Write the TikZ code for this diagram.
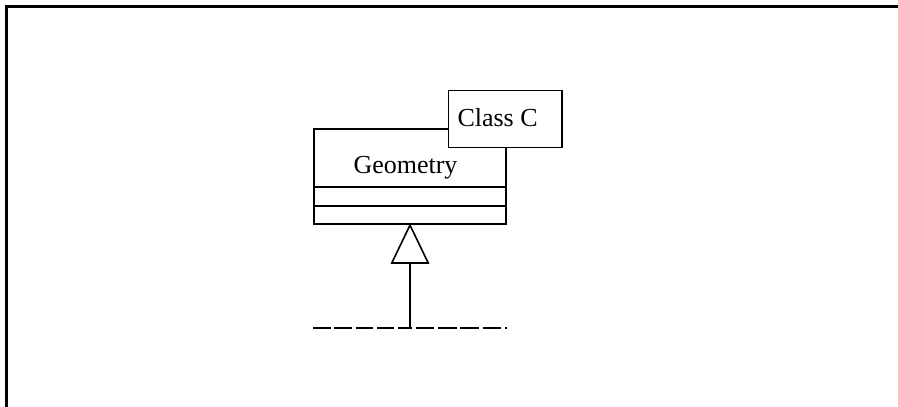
\documentclass[tikz,border=0pt]{standalone}
\usepackage{fontspec}
\setmainfont{Liberation Serif}
\usetikzlibrary{arrows.meta}
\begin{document}
\begin{tikzpicture}[x=1pt,y=-1pt,
  box/.style={draw, line width=1.6pt, inner sep=0pt},
  lbl/.style={font=\fontsize{26}{30}\selectfont, inner sep=0pt, anchor=base west},
  frameline/.style={line width=2.2pt},
  conn/.style={line width=1.6pt},
  dashline/.style={line width=2pt}]
\useasboundingbox (0,0) rectangle (898,407);
\draw[frameline] (6.5,407) -- (6.5,6.5) -- (898,6.5);
% Geometry class box
\node[box, minimum width=192pt, minimum height=95pt] (geo) at (410,176.5) {};
\draw[conn] (314,187) -- (506,187);
\draw[conn] (314,206) -- (506,206);
\node[lbl] (geotxt) at (353.3,173.3) {Geometry};
% Class C tag box
\node[box, fill=white, minimum width=113.5pt, minimum height=57pt] (cc) at (505.25,119) {};
\node[lbl] (cctxt) at (457.3,126.7) {Class C};
% generalization
\coordinate (stem) at (410,328);
\coordinate (dl) at (313,328);
\coordinate (dr) at (507,328);
\draw[conn, shorten >=-1.5pt, -{Triangle[open, length=40.5pt, width=38.6pt]}] (stem) -- (geo.south);
\draw[dashline, dash pattern=on 17.5pt off 3.8pt] (dl) -- (stem);
\draw[dashline, dash pattern=on 18.5pt off 3.8pt, dash phase=16.5pt] (stem) -- (dr);
\end{tikzpicture}
\end{document}
